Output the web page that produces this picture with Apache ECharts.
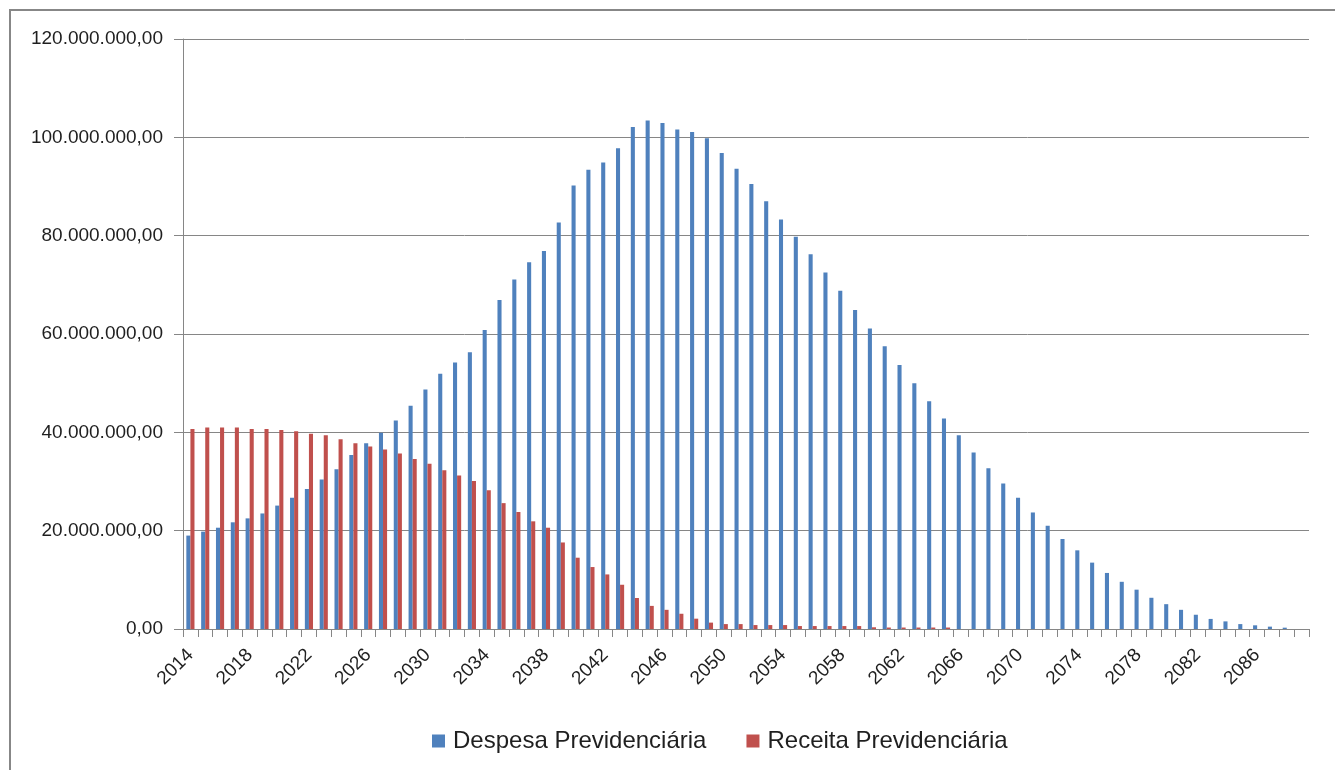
<!DOCTYPE html>
<html>
<head>
<meta charset="utf-8">
<script src="https://cdn.jsdelivr.net/npm/echarts@6/dist/echarts.min.js"></script>
<style>
  html, body { margin: 0; padding: 0; background: #ffffff; }
  #chart { width: 1335px; height: 770px; }
</style>
</head>
<body>
<div id="chart"></div>
<script>
// Anos da projeção
const anos = [];
for (let a = 2014; a <= 2089; a++) anos.push(String(a));

// Despesa previdenciária (em milhões de R$)
const despesaMilhoes = [
  19.0, 19.8, 20.6, 21.7, 22.5, 23.5, 25.1, 26.7, 28.5, 30.4,
  32.5, 35.4, 37.8, 39.9, 42.4, 45.4, 48.7, 51.9, 54.2, 56.3,
  60.8, 66.9, 71.1, 74.6, 76.9, 82.7, 90.2, 93.4, 94.9, 97.8,
  102.1, 103.4, 102.9, 101.6, 101.1, 99.8, 96.8, 93.6, 90.5, 87.0,
  83.3, 79.8, 76.2, 72.5, 68.8, 64.9, 61.1, 57.5, 53.7, 50.0,
  46.3, 42.8, 39.4, 35.9, 32.7, 29.6, 26.7, 23.7, 21.0, 18.3,
  16.0, 13.5, 11.4, 9.6, 8.0, 6.35, 5.05, 3.9, 2.9, 2.05,
  1.55, 1.0, 0.75, 0.48, 0.27, 0.0
];

// Receita previdenciária (em milhões de R$)
const receitaMilhoes = [
  40.7, 41.0, 41.0, 41.0, 40.7, 40.7, 40.5, 40.2, 39.7, 39.4,
  38.6, 37.8, 37.1, 36.5, 35.7, 34.6, 33.6, 32.3, 31.2, 30.1,
  28.2, 25.6, 23.8, 21.9, 20.6, 17.6, 14.5, 12.6, 11.1, 9.0,
  6.3, 4.7, 3.9, 3.1, 2.1, 1.3, 1.0, 1.0, 0.8, 0.8,
  0.8, 0.6, 0.6, 0.6, 0.6, 0.6, 0.35, 0.3, 0.3, 0.3,
  0.3, 0.3, 0, 0, 0, 0, 0, 0, 0, 0,
  0, 0, 0, 0, 0, 0, 0, 0, 0, 0,
  0, 0, 0, 0, 0, 0
];

const nomesSeries = ['Despesa Previdenciária', 'Receita Previdenciária'];
const cores = ['#4F81BD', '#C0504D'];

const emReais = arr => arr.map(v => Math.round(v * 1e6));

// 120000000 -> "120.000.000,00"
function formatoBR(v) {
  const inteiro = Math.round(v).toString().replace(/\B(?=(\d{3})+(?!\d))/g, '.');
  return inteiro + ',00';
}

const fonte = '"Liberation Sans", Arial, sans-serif';
const cinza = '#868686';
const texto = '#1f1f1f';

const chart = echarts.init(document.getElementById('chart'), null, { renderer: 'canvas' });

chart.setOption({
  animation: false,
  backgroundColor: '#ffffff',
  color: cores,
  textStyle: { fontFamily: fonte },
  graphic: [{
    type: 'rect',
    shape: { x: 10, y: 10, width: 1345, height: 790 },
    style: { fill: 'none', stroke: '#878787', lineWidth: 2 },
    silent: true
  }],
  grid: { left: 183, right: 26, top: 39, bottom: 141, containLabel: false },
  legend: {
    data: nomesSeries,
    left: 427,
    top: 724,
    itemWidth: 13,
    itemHeight: 13,
    itemGap: 40,
    icon: 'rect',
    textStyle: { fontFamily: fonte, fontSize: 24, color: texto, padding: [0, 0, 0, 3] }
  },
  xAxis: {
    type: 'category',
    data: anos,
    boundaryGap: true,
    axisLine: { show: true, lineStyle: { color: cinza, width: 1 } },
    axisTick: { show: true, interval: 0, length: 8, lineStyle: { color: cinza } },
    axisLabel: {
      interval: 3,
      rotate: 45,
      margin: 23,
      fontFamily: fonte,
      fontSize: 19,
      color: texto
    },
    splitLine: { show: false }
  },
  yAxis: {
    type: 'value',
    min: 0,
    max: 120000000,
    interval: 20000000,
    axisLine: { show: true, lineStyle: { color: cinza, width: 1 } },
    axisTick: { show: true, length: 9, lineStyle: { color: cinza } },
    axisLabel: {
      margin: 20,
      fontFamily: fonte,
      fontSize: 19,
      color: texto,
      formatter: formatoBR
    },
    splitLine: { show: true, lineStyle: { color: cinza, width: 1 } }
  },
  series: [
    {
      name: nomesSeries[0],
      type: 'bar',
      data: emReais(despesaMilhoes),
      barGap: '0%',
      barCategoryGap: '45%',
      itemStyle: { color: cores[0] }
    },
    {
      name: nomesSeries[1],
      type: 'bar',
      data: emReais(receitaMilhoes),
      barGap: '0%',
      barCategoryGap: '45%',
      itemStyle: { color: cores[1] }
    }
  ]
});
</script>
</body>
</html>
